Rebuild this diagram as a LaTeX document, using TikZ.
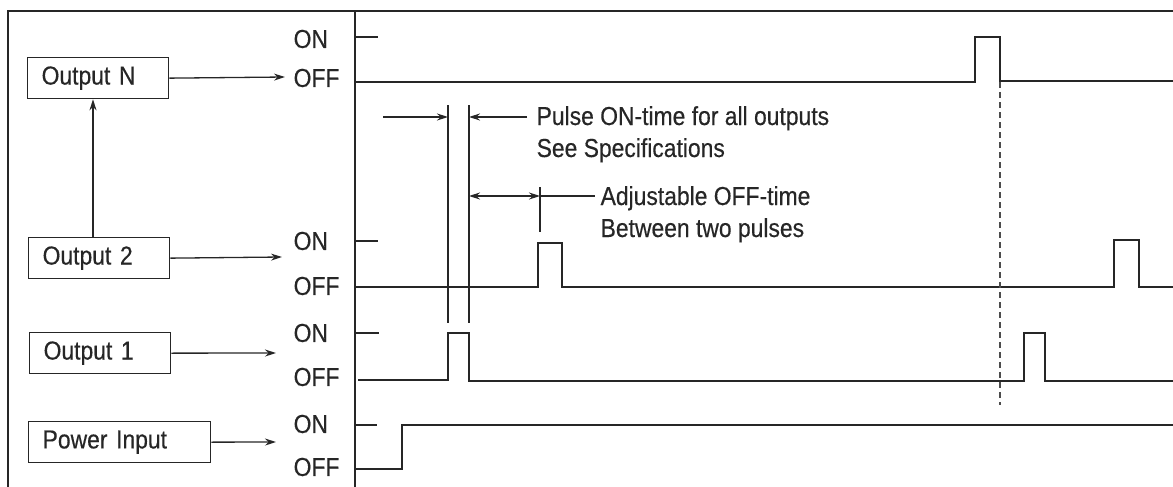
\documentclass[tikz,border=0pt]{standalone}
\usepackage{fontspec}
\setmainfont{Liberation Sans}[FakeStretch=0.88, FakeBold=0.4]
\usetikzlibrary{arrows.meta,positioning}

\begin{document}
\begin{tikzpicture}[
    x=1pt, y=-1pt,
    line width=1.3pt, draw=black!85,
    every node/.style={font=\fontsize{26}{30}\selectfont, text=black!85},
    box/.style={draw, line width=1.3pt, anchor=north west, minimum height=41pt,
        inner xsep=14pt, text width=#1, align=left},
    lvl/.style={anchor=west, inner sep=0pt},
    note/.style={anchor=base west, inner sep=0pt},
    arr/.style={-{Stealth[length=11pt,width=7pt]}},
    wave/.style={line width=1.3pt}
]
\useasboundingbox (0,0) rectangle (1173,487);

% frame
\draw (8,487) -- (8,11) -- (1173,11);
\draw (355,11) -- (355,487);

% input / output boxes
\node[box=113pt] (outN) at (27,57)  {Output N};
\node[box=113pt] (out2) at (28,237) {Output 2};
\node[box=113pt] (out1) at (29,332) {Output 1};
\node[box=154pt] (pwr)  at (28,421) {Power Input};

% ON / OFF levels
\node[lvl] (onN)  at (293,39)  {ON};
\node[lvl] (offN) at (293,78)  {OFF};
\node[lvl] (on2)  at (293,241) {ON};
\node[lvl] (off2) at (293,286) {OFF};
\node[lvl] (on1)  at (293,333) {ON};
\node[lvl] (off1) at (293,377) {OFF};
\node[lvl] (onP)  at (293,424) {ON};
\node[lvl] (offP) at (293,467) {OFF};

\coordinate (tipN) at (285,77);
\coordinate (tip2) at (282,257);
\coordinate (tip1) at (276,353);
\coordinate (tipP) at (276,442);

\draw[arr] (outN.east) -- (tipN);
\draw[arr] (out2.east) -- (tip2);
\draw[arr] (out1.east) -- (tip1);
\draw[arr] (pwr.east)  -- (tipP);
\draw[arr] (out2.north -| 93,0) -- (outN.south -| 93,0);

% waveforms
\draw[wave] (355,37)  -- (378,37);
\draw[wave] (355,82)  -- (975,82) -- (975,37) -- (1000,37) -- (1000,81) -- (1173,81);
\draw[wave] (355,241) -- (378,241);
\draw[wave] (355,287) -- (538,287) -- (538,243) -- (562,243) -- (562,287)
    -- (1114,287) -- (1114,240) -- (1139,240) -- (1139,287) -- (1173,287);
\draw[wave] (355,333) -- (379,333);
\draw[wave] (358,380) -- (448,380) -- (448,333) -- (469,333) -- (469,381)
    -- (1024,381) -- (1024,333) -- (1045,333) -- (1045,381) -- (1173,381);
\draw[wave] (355,425) -- (377,425);
\draw[wave] (355,469) -- (402,469) -- (402,425) -- (1173,425);

\draw[black!70, dash pattern=on 6pt off 4pt] (1000,82) -- (1000,405);

% timing notes
\node[note] (pulse) at (536,125) {Pulse ON-time for all outputs};
\node[note] (spec)  at (536,157) {See Specifications};
\node[note] (adj)   at (600,205) {Adjustable OFF-time};
\node[note] (betw)  at (600,237) {Between two pulses};

\coordinate (mkA) at (448,117);
\coordinate (mkB) at (469,117);
\coordinate (mkC) at (540,196);

\draw (448,105) -- (448,323);
\draw (469,105) -- (469,323);
\draw[arr] (383,117) -- (mkA);
\draw[arr] (527,117) -- (mkB);
\draw[{Stealth[length=11pt,width=7pt]}-{Stealth[length=11pt,width=7pt]}] (469,196) -- (mkC);
\draw (mkC) -- (595,196);
\draw (540,187) -- (540,232);
\end{tikzpicture}
\end{document}
